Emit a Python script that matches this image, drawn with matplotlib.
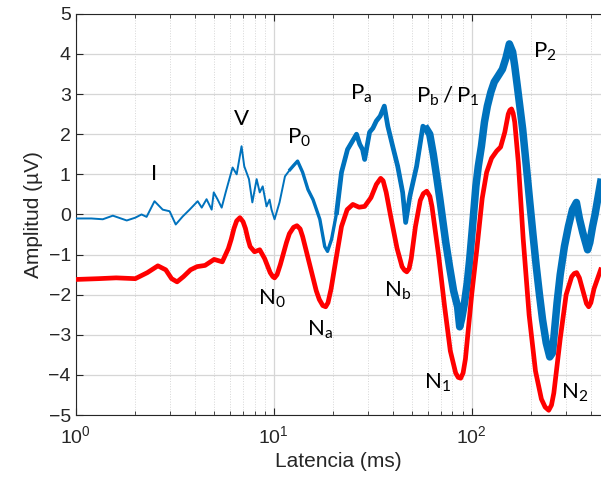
import matplotlib
matplotlib.use("Agg")
import matplotlib.pyplot as plt
from matplotlib.ticker import LogLocator, NullFormatter

# averaged response (blue)
lat_raw = [1.0, 1.2, 1.37, 1.54, 1.81, 2.0, 2.15, 2.28, 2.5, 2.75, 2.98, 3.2,
           3.47, 3.76, 4.13, 4.33, 4.58, 4.86, 4.98, 5.2, 5.46, 5.72, 6.0,
           6.2, 6.5, 6.88, 7.1, 7.5, 7.8, 8.2, 8.5, 8.8, 9.2, 9.53, 9.75,
           10.1, 10.7, 11.4, 12.1, 12.6, 13.2, 14.0, 14.9, 15.8, 17.1, 18.1,
           18.7, 19.6, 20.8, 22.0, 23.6, 24.8, 26.2, 27.2, 28.1, 28.8, 30.5,
           31.7, 33.0, 34.5, 36.2, 37.7, 39.9, 42.3, 44.8, 46.4, 48.7, 52.7,
           56.7, 59.3, 61.4, 64.0, 66.5, 69.0, 71.3, 74.0, 77.3, 81.0, 84.9,
           87.0, 89.0, 92.0, 95.0, 97.7, 101, 105, 108, 112, 116, 120, 125,
           130, 136, 143, 149, 155, 161, 165, 170, 175, 181, 188, 196, 204,
           212, 220, 228, 238, 248, 256, 262, 270, 280, 294, 308, 323, 338,
           350, 364, 385, 395, 408, 420, 448]
amp_raw = [-0.10, -0.10, -0.12, -0.03, -0.15, -0.08, 0.0, -0.06, 0.33, 0.12,
           0.08, -0.25, -0.05, 0.12, 0.33, 0.17, 0.38, 0.12, 0.55, 0.38, 0.17,
           0.55, 0.92, 1.17, 1.0, 1.70, 1.2, 0.88, 0.30, 0.88, 0.55, 0.70,
           0.20, 0.37, 0.12, -0.12, 0.30, 0.95, 1.12, 1.22, 1.33, 1.05, 0.62,
           0.37, -0.12, -0.80, -0.92, -0.62, 0.05, 1.05, 1.62, 1.80, 2.0,
           1.75, 1.62, 1.37, 2.05, 2.15, 2.33, 2.45, 2.70, 2.2, 1.70, 1.20,
           0.55, -0.20, 0.45, 1.20, 2.20, 2.12, 2.0, 1.5, 0.95, 0.40, -0.12,
           -0.70, -1.3, -1.9, -2.3, -2.8, -2.6, -2.2, -1.7, -1.12, -0.30,
           0.70, 1.20, 1.70, 2.30, 2.70, 3.05, 3.30, 3.45, 3.62, 3.90, 4.25,
           4.05, 3.70, 3.20, 2.70, 2.12, 1.30, 0.37, -0.50, -1.3, -2.0, -2.62,
           -3.20, -3.55, -3.45, -2.90, -2.2, -1.5, -0.8, -0.30, 0.12, 0.30,
           -0.10, -0.45, -0.88, -0.70, -0.30, 0.0, 0.80]

# filtered response (red)
lat_filt = [1.0, 1.3, 1.6, 2.0, 2.3, 2.6, 2.85, 3.05, 3.25, 3.5, 3.8, 4.1,
            4.5, 5.0, 5.5, 5.9, 6.1, 6.3, 6.5, 6.75, 7.0, 7.2, 7.4, 7.6, 8.0,
            8.5, 9.0, 9.6, 9.9, 10.1, 10.4, 10.8, 11.6, 12.0, 12.6, 13.1, 13.6,
            14.0, 15.2, 16.4, 17.0, 17.7, 18.3, 18.8, 19.5, 20.5, 22.0, 23.5,
            25.1, 27.0, 28.8, 31.0, 33.0, 34.7, 35.7, 37.0, 39.0, 42.0, 44.5,
            45.8, 47.0, 48.3, 49.5, 52.0, 55.0, 57.0, 59.3, 61.5, 63.0, 68.0,
            73.0, 78.0, 83.0, 85.5, 88.0, 90.5, 93.0, 100, 106, 113, 119, 126,
            133.7, 140, 147, 153, 156, 159, 162, 165, 172, 182, 195, 210, 225,
            235, 245, 253, 260, 280, 300, 320, 330, 339, 350, 360, 380, 390,
            400, 415, 448]
amp_filt = [-1.62, -1.60, -1.58, -1.60, -1.45, -1.28, -1.38, -1.60, -1.68,
            -1.55, -1.38, -1.30, -1.27, -1.12, -1.18, -0.85, -0.62, -0.35,
            -0.16, -0.08, -0.18, -0.35, -0.60, -0.80, -0.93, -0.88, -1.10,
            -1.45, -1.55, -1.58, -1.50, -1.25, -0.70, -0.48, -0.32, -0.28,
            -0.36, -0.55, -1.25, -1.90, -2.12, -2.27, -2.30, -2.20, -1.85,
            -1.2, -0.30, 0.12, 0.25, 0.18, 0.20, 0.42, 0.75, 0.90, 0.84, 0.55,
            -0.05, -0.85, -1.30, -1.39, -1.43, -1.35, -1.10, -0.30, 0.35, 0.52,
            0.58, 0.45, 0.20, -1.00, -2.30, -3.40, -3.95, -4.06, -4.08, -3.95,
            -3.60, -2.0, -0.9, 0.40, 1.05, 1.40, 1.58, 1.68, 2.05, 2.50, 2.60,
            2.63, 2.52, 2.30, 1.30, -0.60, -2.50, -3.90, -4.60, -4.80, -4.88,
            -4.75, -4.45, -3.10, -2.00, -1.55, -1.47, -1.45, -1.58, -1.80,
            -2.22, -2.30, -2.20, -1.85, -1.38]

# wave labels
wave_names = ["I", "V", r"$\mathregular{P_0}$", r"$\mathregular{P_a}$",
              r"$\mathregular{P_b\,/\,P_1}$", r"$\mathregular{P_2}$",
              r"$\mathregular{N_0}$", r"$\mathregular{N_a}$",
              r"$\mathregular{N_b}$", r"$\mathregular{N_1}$",
              r"$\mathregular{N_2}$"]
wave_x = [2.5, 6.9, 13.5, 27.8, 75.7, 234, 9.75, 17.1, 42.2, 67.5, 330]
wave_y = [1.0, 2.37, 1.9, 3.0, 2.95, 4.05, -2.1, -2.87, -1.9, -4.2, -4.45]

plt.rcParams['font.family'] = ['Liberation Sans', 'DejaVu Sans']
plt.rcParams['mathtext.fontset'] = 'custom'
plt.rcParams['mathtext.rm'] = 'Lato'

fig = plt.figure(figsize=(6.01, 4.93), dpi=100)
ax = fig.add_axes([0.126, 0.158, 0.874, 0.814])

blue = '#0072BD'
ax.plot(lat_raw, amp_raw, color=blue, lw=1.4, zorder=3)
# the later part is much noisier: draw it as a thicker band
i12 = lat_raw.index(12.1)
i20 = lat_raw.index(20.8)
i60 = lat_raw.index(59.3)
ax.plot(lat_raw[i12:], amp_raw[i12:], color=blue, lw=2.4, zorder=3)
ax.plot(lat_raw[i20:], amp_raw[i20:], color=blue, lw=3.4, zorder=3)
ax.plot(lat_raw[i60:], amp_raw[i60:], color=blue, lw=5.4, zorder=3)
ax.plot(lat_filt, amp_filt, color='#FF0000', lw=3.4, zorder=4)

for name, x, y in zip(wave_names, wave_x, wave_y):
    ax.text(x, y, name, ha='center', va='center', fontsize=16,
            family='Lato', color='black', zorder=5)

ax.set_xscale('log')
ax.set_xlim(1, 450)
ax.set_ylim(-5, 5)
ax.set_yticks(range(-5, 6))
ax.xaxis.set_major_locator(LogLocator(base=10, numticks=10))
ax.xaxis.set_minor_locator(LogLocator(base=10, subs=range(2, 10), numticks=20))
ax.xaxis.set_minor_formatter(NullFormatter())

ax.grid(True, which='major', color='#d6d6d6', lw=0.9)
ax.grid(True, which='minor', axis='x', color='#d6d6d6', lw=0.7, ls=':')
ax.set_axisbelow(True)

ax.tick_params(which='both', direction='in', top=True, right=False,
               colors='#262626', labelsize=14)
ax.tick_params(which='major', length=5)
ax.tick_params(which='minor', length=3)
ax.tick_params(axis='x', pad=7)
ax.spines['right'].set_visible(False)
for s in ['left', 'top', 'bottom']:
    ax.spines[s].set_color('#262626')
    ax.spines[s].set_linewidth(0.8)

ax.set_xlabel('Latencia (ms)', fontsize=15, color='#262626', labelpad=4)
ax.set_ylabel('Amplitud (µV)', fontsize=15, color='#262626', labelpad=4)

fig.savefig('out.png', dpi=100)
